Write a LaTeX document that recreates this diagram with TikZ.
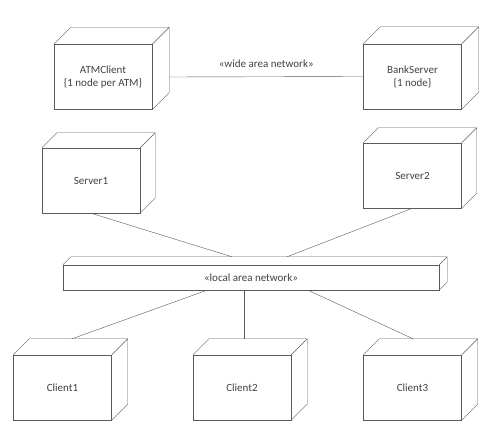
\documentclass[tikz,border=0pt]{standalone}
\usepackage{fontspec}
\setmainfont{Carlito}
\usepackage{tikz}
\definecolor{linegray}{HTML}{5A5A5A}
\definecolor{textgray}{HTML}{404040}
\newcommand{\boxfont}{\fontsize{11}{13}\selectfont}

\begin{document}
\begin{tikzpicture}[x=1pt,y=-1pt]
	\useasboundingbox (0,0) rectangle (503,427);
		\begin{scope}[every node/.style={draw=linegray,text=textgray,align=center,
		              minimum width=98,minimum height=65,inner sep=0pt,font=\boxfont}]
			\node (atm) at (103,77) {ATMClient\\\{1 node per ATM\}};
			\node (bank) at (412.5,76.5) {BankServer\\\{1 node\}};
			\node (srv1) at (91,180.5) {Server1};
			\node (srv2) at (412.5,175.5) {Server2};
			\node[minimum width=376,minimum height=25] (lan) at (251,277.5) {«local area network»};
			\node (cl1) at (62.5,387.5) {Client1};
			\node (cl2) at (242,387.5) {Client2};
			\node (cl3) at (412.5,387.5) {Client3};
		\end{scope}

	% depth of the boxes
	\foreach \n/\d in {atm/17,bank/17,srv1/15,srv2/15,cl1/16,cl2/16,cl3/16,lan/8}
		\draw[linegray] (\n.north west) -- ++(\d,-\d) -- ([shift={(\d,-\d)}]\n.north east)
			-- ([shift={(\d,-\d)}]\n.south east) -- (\n.south east)
			(\n.north east) -- ++(\d,-\d);

	\begin{scope}[every node/.style={text=textgray,font=\boxfont},
              every edge/.style={draw=linegray}]

  \path ([xshift=17]atm.east) edge node[above=6pt] {«wide area network»} (bank.west);
	\path (srv1.south) edge ([shift={(-19,-8)}]lan.north);
	\path (srv2.south) edge ([shift={(36,-8)}]lan.north);
	\path ([xshift=-44]lan.south) edge ([shift={(9.5,-16)}]cl1.north);
	\path ([xshift=-7]lan.south) edge ([shift={(2,-16)}]cl2.north);
	\path ([xshift=57]lan.south) edge ([shift={(0.5,-16)}]cl3.north);

\end{scope}
\end{tikzpicture}
\end{document}
